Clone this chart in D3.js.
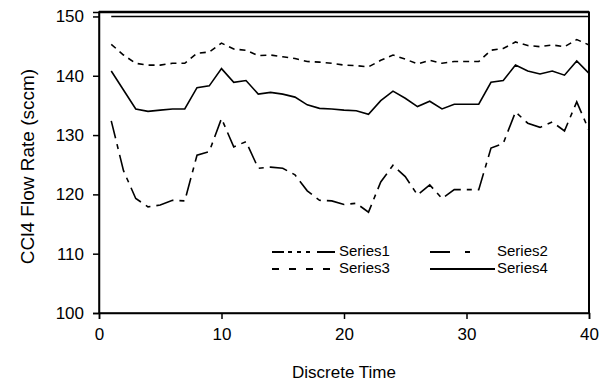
<!DOCTYPE html>
<html>
<head>
<meta charset="utf-8">
<script src="https://cdn.jsdelivr.net/npm/d3@7"></script>
<style>
body{margin:0;background:#fff;}
text{font-family:"Liberation Sans",Arial,sans-serif;fill:#000;}
</style>
</head>
<body>
<svg width="606" height="386"></svg>
<script>
// discrete time steps 1..40
var times=[1,2,3,4,5,6,7,8,9,10,11,12,13,14,15,16,17,18,19,20,
21,22,23,24,25,26,27,28,29,30,31,32,33,34,35,36,37,38,39,40];

var series1=[150,150,150,150,150,150,150,150,150,150,150,150,150,150,150,150,150,150,150,150,
150,150,150,150,150,150,150,150,150,150,150,150,150,150,150,150,150,150,150,150];

var series2=[132.4,124.0,119.3,117.9,118.2,119.0,118.9,126.6,127.2,132.8,128.0,128.9,124.4,124.6,124.4,123.3,120.6,119.0,118.9,118.3,
118.5,117.0,122.1,124.9,123.0,119.9,121.6,119.3,120.8,120.8,120.8,127.8,128.6,133.9,132.0,131.3,132.2,130.7,135.6,130.8];

var series3=[145.3,143.5,142.1,141.8,141.8,142.1,142.1,143.8,144.0,145.5,144.5,144.3,143.4,143.5,143.2,142.9,142.4,142.3,142.1,141.8,
141.7,141.5,142.6,143.5,142.8,142.0,142.6,142.1,142.4,142.4,142.4,144.3,144.6,145.7,145.1,144.9,145.2,144.9,146.1,145.2];

var series4=[140.8,137.6,134.4,134.0,134.2,134.4,134.4,138.0,138.3,141.2,138.9,139.2,136.9,137.2,136.9,136.4,135.1,134.5,134.4,134.2,
134.1,133.5,135.8,137.4,136.2,134.8,135.7,134.4,135.2,135.2,135.2,138.9,139.2,141.8,140.8,140.3,140.8,140.1,142.5,140.4];

var xTicks=[0,10,20,30,40];
var yTicks=[100,110,120,130,140,150];

var names=["Series1","Series2","Series3","Series4"];
var lineDash=[null,"18,6,5,6","6,5",null];
var legendDash=["12,4,4,5,4,5,4,7,18","20,15,5,30","7,10",null];

function main()
{
var svg=d3.select("svg"),
    left=99, right=17, top=12, bottom=73,
    width=svg.attr("width")-left-right,
    height=svg.attr("height")-top-bottom;

var xScale=d3.scaleLinear().domain([0,40]).range([0,width]),
    yScale=d3.scaleLinear().domain([100,150.75]).range([height,0]);

var g=svg.append("g")
.attr("transform","translate("+left+","+top+")");

// plot frame
g.append("rect")
.attr("width",width)
.attr("height",height)
.attr("fill","none")
.attr("stroke","#000")
.attr("stroke-width",1.5);
g.append("line")
.attr("x1",0).attr("x2",width)
.attr("y1",0).attr("y2",0)
.attr("stroke","#000").attr("stroke-width",2.5);
g.append("line")
.attr("x1",width).attr("x2",width)
.attr("y1",0).attr("y2",height)
.attr("stroke","#000").attr("stroke-width",2);

var xAxis=g.append("g")
.attr("transform","translate(0,"+height+")")
.call(d3.axisBottom(xScale).tickValues(xTicks).tickSize(6).tickPadding(9));

var yAxis=g.append("g")
.call(d3.axisLeft(yScale).tickValues(yTicks).tickSize(6).tickPadding(9));

[xAxis,yAxis].forEach(function(a){
    a.select(".domain").attr("stroke-width",1.5);
    a.selectAll(".tick line").attr("stroke-width",1.5);
    a.selectAll(".tick text").attr("font-size","17px").attr("font-family","Liberation Sans, Arial, sans-serif");
});

var allSeries=[series1,series2,series3,series4];

var line=d3.line()
.x(function(d,i){return xScale(times[i]);})
.y(function(d){return yScale(d);});

g.selectAll(".series")
.data(allSeries)
.enter().append("path")
.attr("class","series")
.attr("d",function(d){return line(d);})
.attr("fill","none")
.attr("stroke","#000")
.attr("stroke-width",1.6)
.attr("stroke-dasharray",function(d,i){return lineDash[i];});

// legend, two columns
var legend=g.selectAll(".legend")
.data(names)
.enter().append("g")
.attr("class","legend")
.attr("transform",function(d,i){
    return "translate("+(173+(i%2)*158)+","+(239+Math.floor(i/2)*17)+")";
});

legend.append("line")
.attr("x1",0).attr("x2",65)
.attr("y1",1).attr("y2",1)
.attr("stroke","#000")
.attr("stroke-width",1.8)
.attr("stroke-dasharray",function(d,i){return legendDash[i];});

legend.append("text")
.attr("x",67)
.attr("y",5)
.attr("font-size","15px")
.text(function(d){return d;});

svg.append("text")
.attr("x",left+width/2)
.attr("y",378)
.attr("text-anchor","middle")
.attr("font-size","17px")
.text("Discrete Time");

svg.append("text")
.attr("transform","translate(34,"+(top+height/2+4)+") rotate(-90)")
.attr("text-anchor","middle")
.attr("font-size","19px")
.text("CCl4 Flow Rate (sccm)");
}
main();
</script>
</body>
</html>
